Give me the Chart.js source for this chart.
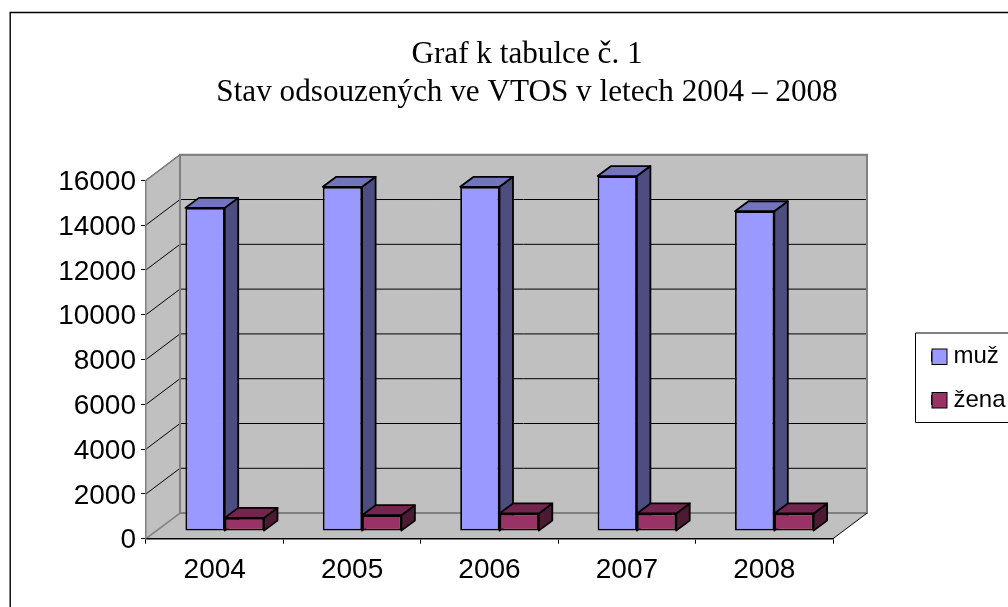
<!DOCTYPE html>
<html><head><meta charset="utf-8">
<style>html,body{margin:0;padding:0;background:#fff}canvas{display:block}</style>
<script src="https://cdn.jsdelivr.net/npm/chart.js@4"></script>
</head><body><canvas id="c" width="1008" height="607"></canvas>
<script>
const categories = ["2004","2005","2006","2007","2008"];
const muz = [14430,15370,15370,15850,14280];
const zena = [590,710,790,790,790];
const seriesNames = ["muž","žena"];
const titleLines = ["Graf k tabulce č. 1","Stav odsouzených ve VTOS v letech 2004 – 2008"];
const colors = {
  muz:{front:"#9999FF",top:"#7373BF",side:"#4D4D80"},
  zena:{front:"#993366",top:"#73264D",side:"#4D1A33"}
};
const WALL=[34,25.6], BAR_SHIFT=[10,-7.6], BAR_DEPTH=[13.5,10], EDGE=1.8;

function poly(ctx,pts,fill,stroke,lw){
  ctx.beginPath();pts.forEach((p,i)=>i?ctx.lineTo(p[0],p[1]):ctx.moveTo(p[0],p[1]));ctx.closePath();
  if(fill){ctx.fillStyle=fill;ctx.fill();}
  if(stroke){ctx.strokeStyle=stroke;ctx.lineWidth=lw||1;ctx.stroke();}
}
function faces(chart,idx,c){
  const ctx=chart.ctx,meta=chart.getDatasetMeta(idx);
  ctx.save();ctx.translate(BAR_SHIFT[0],BAR_SHIFT[1]);
  ctx.lineJoin="round";
  meta.data.forEach(el=>{
    const p=el.getProps(["x","y","base","width"],true);
    const L=p.x-p.width/2,R=p.x+p.width/2,T=p.y,B=p.base,[dx,dy]=BAR_DEPTH;
    poly(ctx,[[R,T],[R+dx,T-dy],[R+dx,B-dy],[R,B]],c.side,"#000",EDGE);
    poly(ctx,[[L,T],[R,T],[R+dx,T-dy],[L+dx,T-dy]],c.top,"#000",EDGE);
  });
  ctx.restore();
}
const scene={
  id:"scene",
  afterLayout(chart){
    const lg=chart.legend;
    lg.left=912.5;lg.right=1008;lg.top=325;lg.bottom=560;
    chart.titleBlock.left=46;chart.titleBlock.right=1008;
    chart.scales.y.getLabelItems().forEach(it=>{
      const t=it.options.translation;
      it.options.translation=[t[0],t[1]+2];
    });
  },
  beforeDraw(chart){
    const ctx=chart.ctx,x=chart.scales.x,y=chart.scales.y,[wx,wy]=WALL;
    const L=x.left,R=x.right,B=y.bottom,T=y.top;
    ctx.save();
    poly(ctx,[[L,B],[L,T],[L+wx,T-wy],[L+wx,B-wy]],"#C0C0C0");
    poly(ctx,[[L+wx,T-wy],[R+wx,T-wy],[R+wx,B-wy],[L+wx,B-wy]],"#C0C0C0");
    poly(ctx,[[L,B],[L+wx,B-wy],[R+wx,B-wy],[R,B]],"#C0C0C0");
    y.ticks.forEach(t=>{
      if(t.value===0)return;
      const py=y.getPixelForValue(t.value);
      ctx.beginPath();ctx.moveTo(L,py);ctx.lineTo(L+wx,py-wy);ctx.lineTo(R+wx,py-wy);
      ctx.strokeStyle="#000";ctx.lineWidth=1;ctx.stroke();
    });
    poly(ctx,[[L+wx,T-wy],[R+wx,T-wy],[R+wx,B-wy],[L+wx,B-wy]],null,"#808080",2);
    ctx.beginPath();ctx.moveTo(L,T);ctx.lineTo(L+wx,T-wy);ctx.moveTo(L,B);ctx.lineTo(L+wx,B-wy);
    ctx.strokeStyle="#808080";ctx.lineWidth=1.5;ctx.stroke();
    ctx.beginPath();ctx.moveTo(R,B);ctx.lineTo(R+wx,B-wy);ctx.strokeStyle="#000";ctx.lineWidth=1;ctx.stroke();
    // outer chart frame, cropped at right and bottom
    ctx.beginPath();ctx.moveTo(10.2,607);ctx.lineTo(10.2,12.5);ctx.lineTo(1008,12.5);
    ctx.strokeStyle="#000";ctx.lineWidth=1.4;ctx.stroke();
    ctx.restore();
  },
  beforeDatasetDraw(chart,args){
    if(args.index===1)return false;
    faces(chart,0,colors.muz);
    chart.ctx.save();chart.ctx.translate(BAR_SHIFT[0],BAR_SHIFT[1]);
  },
  afterDatasetDraw(chart,args){
    if(args.index===0)chart.ctx.restore();
  },
  afterDatasetsDraw(chart){
    faces(chart,1,colors.zena);
    const ctx=chart.ctx;ctx.save();ctx.translate(BAR_SHIFT[0],BAR_SHIFT[1]);
    chart.getDatasetMeta(1).controller.draw();
    ctx.restore();
  },
  afterDraw(chart){
    const ctx=chart.ctx;ctx.save();
    ctx.beginPath();ctx.moveTo(1008,333);ctx.lineTo(915.5,333);ctx.lineTo(915.5,422.5);ctx.lineTo(1008,422.5);
    ctx.strokeStyle="#000";ctx.lineWidth=1;ctx.stroke();
    [[colors.muz.front,349],[colors.zena.front,392.5]].forEach(([f,t])=>{
      ctx.fillStyle=f;ctx.fillRect(932,t,15,15.5);
      ctx.strokeStyle="#000";ctx.lineWidth=1;ctx.strokeRect(932,t,15,15.5);
    });
    ctx.restore();
  }
};
new Chart(document.getElementById("c"),{
  type:"bar",
  data:{labels:categories,datasets:[
    {label:seriesNames[0],data:muz,backgroundColor:colors.muz.front,borderColor:"#000",borderWidth:EDGE,borderSkipped:false,clip:false},
    {label:seriesNames[1],data:zena,backgroundColor:colors.zena.front,borderColor:"#000",borderWidth:EDGE,borderSkipped:false,clip:false}
  ]},
  options:{
    responsive:false,animation:false,
    layout:{padding:{left:46,right:175,top:0,bottom:0}},
    datasets:{bar:{barPercentage:1,categoryPercentage:0.572}},
    plugins:{
      tooltip:{enabled:false},
      title:{display:true,text:titleLines,color:"#000",
        font:{family:"'Liberation Serif'",size:31.2,weight:"normal",lineHeight:1.22},
        padding:{top:36,bottom:68.2}},
      legend:{position:"chartArea",align:"start",
        labels:{color:"#000",font:{family:"'Liberation Sans'",size:24},boxWidth:9.5,boxHeight:8,padding:19.5}}
    },
    scales:{
      x:{grid:{drawOnChartArea:false,color:"#000",tickColor:"#000",tickLength:5},
        border:{color:"#000",width:1.5},
        ticks:{color:"#000",font:{family:"'Liberation Sans'",size:28},padding:10,maxRotation:0},
        afterFit(s){s.height=68.3;}},
      y:{min:0,max:16000,
        grid:{drawOnChartArea:false,color:"#000",tickColor:"#000",tickLength:5},
        border:{color:"#808080",width:1.5},
        ticks:{stepSize:2000,color:"#000",font:{family:"'Liberation Sans'",size:28},padding:5,callback:v=>String(v)},
        afterFit(s){s.width=100;}}
    }
  },
  plugins:[scene]
});
</script></body></html>
